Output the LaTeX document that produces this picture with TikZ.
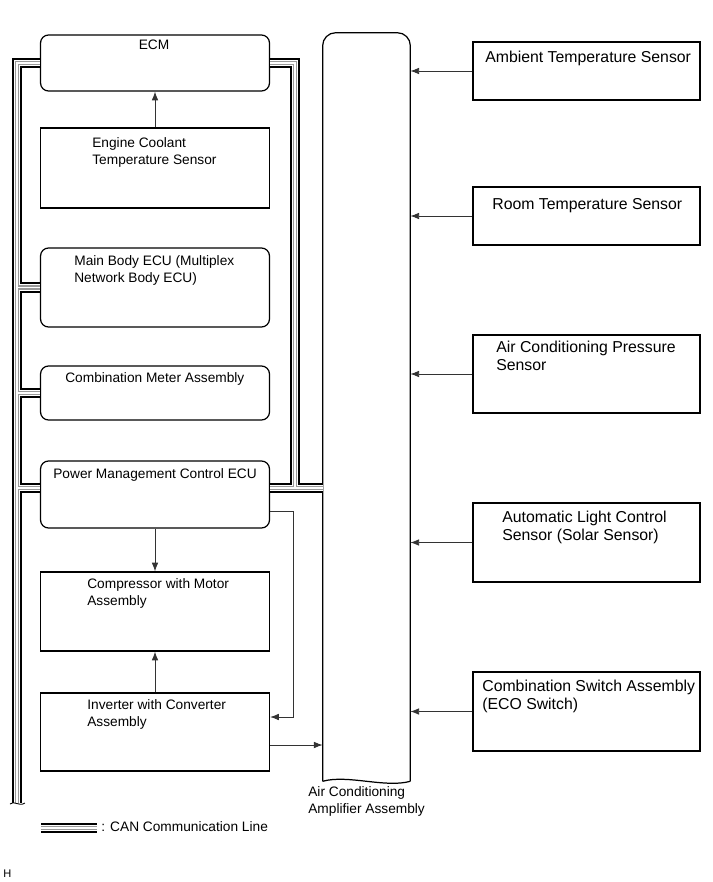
\documentclass[tikz,border=0pt]{standalone}
\usepackage{fontspec}
\setmainfont{Liberation Sans}
\usetikzlibrary{arrows.meta,calc}

\begin{document}
\begin{tikzpicture}[x=0.02cm,y=-0.02cm,>={Latex[length=5pt,width=3.8pt]},
	box/.style={draw,line width=0.7pt,inner sep=0,minimum width=4.58cm},
	rbox/.style={box,rounded corners=0.16cm},
	sbox/.style={box,minimum width=4.54cm},
	txt/.style={inner sep=0,anchor=base west,align=left,font=\fontsize{7.8}{9.4}\selectfont},
	txtr/.style={txt,font=\fontsize{9}{9.7}\selectfont},
	sig/.style={draw=black!80,line width=0.5pt},
	can0/.style={line width=6pt,black},
	can1/.style={line width=3.5pt,white},
	can2/.style={line width=2.3pt,black!40},
	can3/.style={line width=1.1pt,white}]
	\useasboundingbox (0,0) rectangle (713,882);

	% left column
	\node[rbox,minimum height=1.12cm] (ecm) at (155,63) {};
	\node[box,minimum height=1.6cm] (ect) at (155,168) {};
	\node[rbox,minimum height=1.58cm] (mbe) at (155,287.5) {};
	\node[rbox,minimum height=1.08cm] (cma) at (155,393) {};
	\node[rbox,minimum height=1.34cm] (pmc) at (155,494.5) {};
	\node[box,minimum height=1.58cm] (cmp) at (155,611.5) {};
	\node[box,minimum height=1.56cm] (inv) at (155,732) {};
	\node[txt,anchor=base] (ecm-t) at (154,50) {ECM};
	\node[txt] (ect-t) at (92,164) {Engine Coolant\\Temperature Sensor};
	\node[txt] (mbe-t) at (74,282) {Main Body ECU (Multiplex\\Network Body ECU)};
	\node[txt] (cma-t) at (65,382) {Combination Meter Assembly};
	\node[txt] (pmc-t) at (53,478) {Power Management Control ECU};
	\node[txt] (cmp-t) at (87,605) {Compressor with Motor\\Assembly};
	\node[txt] (inv-t) at (87,726) {Inverter with Converter\\Assembly};

	% amplifier
	\node[inner sep=0,minimum width=1.74cm,minimum height=14.96cm] (amp) at (366.5,407) {};
	\draw[line width=0.7pt,rounded corners=0.26cm] (amp.south west) -- (amp.north west) -- (amp.north east) -- (amp.south east);
	\draw[line width=0.7pt] (amp.south west) .. controls +(25,-7) and +(-25,7) .. (amp.south east);
	\node[txt] (amp-t) at (308,813) {Air Conditioning\\Amplifier Assembly};

	% sensors
	\node[sbox,minimum height=1.16cm] (amb) at (586.5,71) {};
	\node[sbox,minimum height=1.16cm] (rts) at (586.5,216) {};
	\node[sbox,minimum height=1.56cm] (acp) at (586.5,374) {};
	\node[sbox,minimum height=1.58cm] (sol) at (586.5,542.5) {};
	\node[sbox,minimum height=1.58cm] (csw) at (586.5,711.5) {};
	\node[txtr] (amb-t) at (485,63) {Ambient Temperature Sensor};
	\node[txtr] (rts-t) at (492,209) {Room Temperature Sensor};
	\node[txtr] (acp-t) at (496,370) {Air Conditioning Pressure\\Sensor};
	\node[txtr] (sol-t) at (502,540) {Automatic Light Control\\Sensor (Solar Sensor)};
	\node[txtr] (csw-t) at (482,709) {Combination Switch Assembly\\(ECO Switch)};

	% signal lines
	\draw[sig,->] (ect.north) -- (ecm.south);
	\draw[sig,->] (pmc.south) -- (cmp.north);
	\draw[sig,->] (inv.north) -- (cmp.south);
	\draw[sig,->] (pmc.east |- 0,511) -- (293,511) -- (293,717) -- (inv.east |- 0,717);
	\draw[sig,->] (inv.east |- 0,745) -- (amp.west |- 0,745);
	\foreach \s in {amb,rts,acp,sol,csw}
		\draw[sig,->] (\s.west) -- (\s.west -| amp.east);

	% CAN lines
	\coordinate (leg-a) at (41,828);
	\coordinate (leg-b) at (97,828);
	\foreach \s in {can0,can1,can2,can3} {
		\draw[\s] (ecm.west) -- (17,63) -- (17,803);
		\draw[\s] (mbe.west) -- (17,287.5);
		\draw[\s] (cma.west) -- (17,393);
		\draw[\s] (pmc.west |- 0,488) -- (17,488);
		\draw[\s] (ecm.east) -- (295,63) -- (295,488);
		\draw[\s] (pmc.east |- 0,488) -- (amp.west |- 0,488);
		\draw[\s] (leg-a) -- (leg-b);
	}
	\draw[line width=0.5pt] (10,804) .. controls (14,800) and (19,807) .. (25,803);
	\node[txt] (leg-t) at (101,831) {: CAN Communication Line};
	\node[inner sep=0,anchor=base west,font=\fontsize{6.3}{7}\selectfont] (hmark) at (3,877) {H};
\end{tikzpicture}
\end{document}
